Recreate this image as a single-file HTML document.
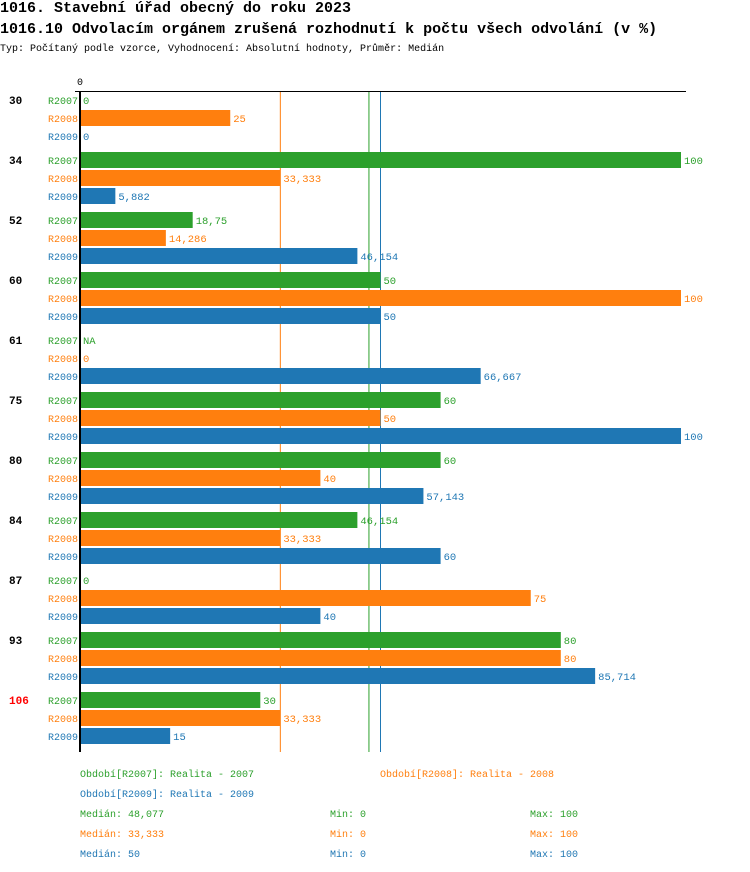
<!DOCTYPE html>
<html><head><meta charset="utf-8"><style>
body{margin:0;background:#fff;width:750px;height:872px;overflow:hidden;font-family:"Liberation Mono","DejaVu Sans Mono",monospace;}
.t{position:absolute;white-space:nowrap}
</style></head><body>
<div class="t" style="left:0;top:0;font-size:15px;line-height:18px;font-weight:bold">1016. Stavební úřad obecný do roku 2023</div>
<div class="t" style="left:0;top:21px;font-size:15px;line-height:18px;font-weight:bold">1016.10 Odvolacím orgánem zrušená rozhodnutí k počtu všech odvolání (v %)</div>
<div class="t" style="left:0;top:44px;font-size:10px;line-height:12px">Typ: Počítaný podle vzorce, Vyhodnocení: Absolutní hodnoty, Průměr: Medián</div>
<svg id="c" width="750" height="872" style="position:absolute;left:0;top:0" font-family="Liberation Mono, DejaVu Sans Mono, monospace"></svg>
<script>
const categories=["30","34","52","60","61","75","80","84","87","93","106"];
const seriesNames=["R2007","R2008","R2009"];
const r2007=[0,100,18.75,50,null,60,60,46.154,0,80,30];
const r2008=[25,33.333,14.286,100,0,50,40,33.333,75,80,33.333];
const r2009=[0,5.882,46.154,50,66.667,100,57.143,60,40,85.714,15];
const medians=[48.077,33.333,50];
const mins=[0,0,0];
const maxs=[100,100,100];
const colors=["#2ca02c","#ff7f0e","#1f77b4"];
const svg=document.getElementById('c');
const NS="http://www.w3.org/2000/svg";
const x=v=>80+v*6.01;
const y=(g,s)=>100+g*60+s*18;
function mk(tag,attrs,txt){const e=document.createElementNS(NS,tag);for(const k in attrs)e.setAttribute(k,attrs[k]);if(txt!==undefined)e.textContent=txt;svg.appendChild(e);return e;}
const fmt=v=>v===null?"NA":String(v).replace('.',',');
const series=[r2007,r2008,r2009];
const mc=[colors[1],colors[0],colors[2]];
[medians[1],medians[0],medians[2]].forEach((m,i)=>{
  const l=mk('line',{x1:x(m),x2:x(m),y1:91,y2:752,stroke:mc[i],'stroke-width':1});
  
  
});
categories.forEach((c,g)=>{
  const lab=mk('text',{x:9,y:y(g,0)+4,'font-size':11,'font-weight':'bold',fill:c==="106"?"#ff0000":"#000"},c);
  
  
  series.forEach((arr,s)=>{
    const yc=y(g,s);
    const sl=mk('text',{x:78,y:yc+4,'font-size':10,'text-anchor':'end',fill:colors[s]},seriesNames[s]);
    
    
    const v=arr[g];
    if(v){const r=mk('rect',{x:x(0),y:yc-8,width:x(v)-x(0),height:16,fill:colors[s]});
      
      }
    const vt=mk('text',{x:x(v||0)+3,y:yc+4,'font-size':10.5,fill:colors[s]},fmt(v));
    
    
  });
});
const ax=mk('line',{x1:75,x2:686,y1:91.5,y2:91.5,stroke:'#000','stroke-width':1});


const ay=mk('line',{x1:80,x2:80,y1:91,y2:752,stroke:'#000','stroke-width':2});


const zt=mk('text',{x:80,y:85,'font-size':10,'text-anchor':'middle'},"0");


const leg=[["Období[R2007]: Realita - 2007",80,777,0],["Období[R2008]: Realita - 2008",380,777,1],["Období[R2009]: Realita - 2009",80,797,2]];
leg.forEach(l=>{const t=mk('text',{x:l[1],y:l[2],'font-size':10,fill:colors[l[3]]},l[0]);
  
  });
[0,1,2].forEach(i=>{
  const yy=817+i*20;
  const a=mk('text',{x:80,y:yy,'font-size':10,fill:colors[i]},"Medián: "+fmt(medians[i]));
  
  
  const b=mk('text',{x:330,y:yy,'font-size':10,fill:colors[i]},"Min: "+fmt(mins[i]));
  
  
  const d=mk('text',{x:530,y:yy,'font-size':10,fill:colors[i]},"Max: "+fmt(maxs[i]));
  
  
});
</script>
</body></html>
